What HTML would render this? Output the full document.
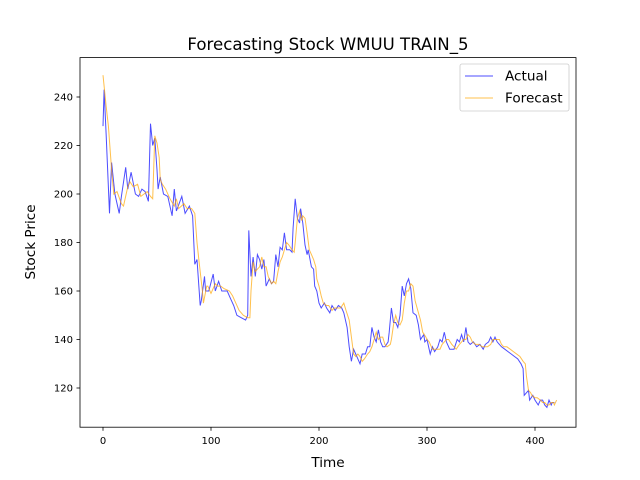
<!DOCTYPE html>
<html><head><meta charset="utf-8"><style>
body{margin:0;background:#fff}
svg{display:block;font-family:"DejaVu Sans","Liberation Sans",sans-serif}
</style></head><body>
<svg id="chart" width="640" height="480" viewBox="0 0 640 480">
<rect width="640" height="480" fill="#fff"/>
<text x="328" y="50" font-size="16.6" text-anchor="middle">Forecasting Stock WMUU TRAIN_5</text>
<g id="plot"></g>
<rect x="80" y="57.6" width="496" height="369.6" fill="none" stroke="#000" stroke-width="0.8"/>
<text x="328" y="467" font-size="13.6" text-anchor="middle">Time</text>
<text x="0" y="0" font-size="13.6" text-anchor="middle" transform="translate(35,242) rotate(-90)">Stock Price</text>
<g>
<rect x="460" y="64" width="109" height="47" rx="2" fill="#fff" fill-opacity="0.8" stroke="#ccc" stroke-width="0.8"/>
<line x1="465" y1="76" x2="493" y2="76" stroke="blue" stroke-opacity="0.7" stroke-width="1"/>
<text x="505" y="80.5" font-size="13.6">Actual</text>
<line x1="465" y1="98" x2="493" y2="98" stroke="orange" stroke-opacity="0.7" stroke-width="1"/>
<text x="505" y="102.5" font-size="13.6">Forecast</text>
</g>
</svg>
<script>
const actualTime=[0,1,3,6,8,11,15,17,21,23,26,30,33,36,39,42,44,46,48,50,51,53,56,60,64,66,68,73,76,80,83,85,87,90,91,94,95,98,102,104,107,110,115,118,121,124,128,132,134,135,137,139,141,143,145,147,149,151,154,156,158,160,162,164,166,168,170,173,175,176,178,180,182,183,185,187,189,190,193,195,196,198,200,202,205,207,210,212,215,218,221,223,226,228,230,232,234,236,238,240,243,245,247,249,251,253,255,257,259,261,264,265,267,269,271,273,275,277,279,281,283,285,287,290,292,294,297,298,300,303,305,307,310,312,314,316,318,321,323,325,328,330,332,334,336,338,340,343,346,349,352,354,357,359,361,363,365,367,369,372,375,378,381,384,387,389,390,392,394,395,398,400,403,405,407,409,411,413,415,416,418];
const actualVals=[228,243,224,192,213,200,192,199,211,202,209,200,199,202,201,197,229,220,223,210,202,207,200,199,191,202,193,199,192,195,191,171,173,154,156,166,160,160,167,160,164,160,160,157,154,150,149,148,150,185,166,174,166,175,173,169,173,162,165,163,164,175,170,178,177,184,177,177,176,186,198,190,188,194,188,179,175,177,170,169,162,160,155,153,155,153,151,154,152,154,153,151,145,137,131,136,134,132,130,134,134,137,137,145,141,139,144,139,137,137,139,143,153,147,147,145,150,162,158,163,165,161,151,150,146,140,142,139,140,134,137,135,137,140,139,143,139,136,136,136,140,139,142,139,145,139,138,139,137,138,136,138,139,141,139,141,139,138,137,136,135,134,133,132,130,128,117,118,119,115,117,115,113,115,115,113,112,115,113,114,114];
const fcLag=2;
const fcVals=[249,236,228,210,200,201,196,195,203,205,203,204,199,200,201,199,198,224,221,215,206,204,202,198,195,198,194,196,194,194,192,180,172,160,155,162,162,159,163,162,162,161,160,158,155,152,150,149,149,160,172,168,169,170,174,170,170,166,163,164,163,168,172,174,177,180,179,177,176,180,190,193,189,191,190,184,177,176,173,170,165,162,158,155,154,154,152,153,153,153,155,152,148,141,134,133,134,133,131,132,134,135,137,140,143,140,141,141,138,137,138,140,146,150,147,146,148,155,160,160,163,162,156,151,148,143,141,140,139,136,136,136,136,138,139,140,140,138,137,136,138,139,140,140,142,141,139,138,138,137,137,137,138,140,140,140,140,138,137,137,136,135,134,133,131,130,125,119,118,117,116,116,115,114,114,113,113,114,114,113,115];
const X=t=>103+(t-0)*(432/400);
const Y=v=>97+(240-v)*(291/120);
const plot=document.getElementById('plot');
const NS='http://www.w3.org/2000/svg';
function mk(tag,attrs){const e=document.createElementNS(NS,tag);for(const k in attrs)e.setAttribute(k,attrs[k]);return e;}
const xTicks=[0,100,200,300,400];
const yTicks=[120,140,160,180,200,220,240];
xTicks.forEach(t=>{
 const l=mk('line',{x1:X(t),x2:X(t),y1:427.2,y2:430.7,stroke:'#000','stroke-width':0.8});
 
 
 plot.appendChild(l);
 const tx=mk('text',{x:X(t),y:444,'font-size':10,'text-anchor':'middle'});
 tx.textContent=t;
 
 
 plot.appendChild(tx);
});
yTicks.forEach(v=>{
 const l=mk('line',{x1:76.5,x2:80,y1:Y(v),y2:Y(v),stroke:'#000','stroke-width':0.8});
 
 
 plot.appendChild(l);
 const tx=mk('text',{x:73,y:Y(v)+3.5,'font-size':10,'text-anchor':'end'});
 tx.textContent=v;
 
 
 plot.appendChild(tx);
});
const pa=actualTime.map((t,i)=>X(t).toFixed(1)+','+Y(actualVals[i]).toFixed(1)).join(' ');
const pf=actualTime.map((t,i)=>X(t+fcLag*(i>0?1:0)).toFixed(1)+','+Y(fcVals[i]).toFixed(1)).join(' ');
const la=mk('polyline',{points:pa,fill:'none',stroke:'blue','stroke-opacity':0.7,'stroke-width':1});


const lf=mk('polyline',{points:pf,fill:'none',stroke:'orange','stroke-opacity':0.7,'stroke-width':1});


plot.appendChild(la);
plot.appendChild(lf);
</script>
</body></html>
